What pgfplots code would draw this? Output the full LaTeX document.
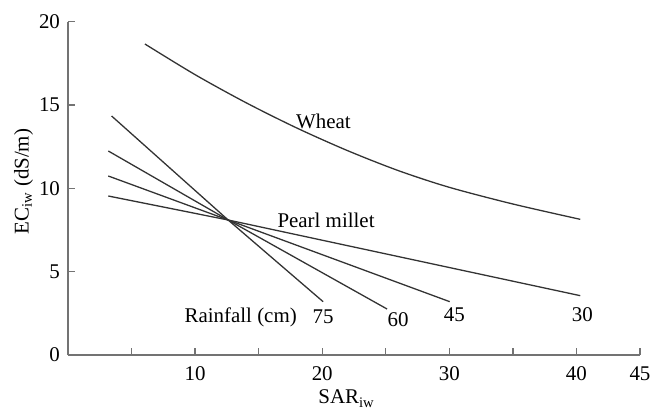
\documentclass[border=0pt]{standalone}
\usepackage{fontspec}
\setmainfont{Liberation Serif}
\usepackage{pgfplots}
\pgfplotsset{compat=1.18}
\begin{document}
\begin{tikzpicture}
\path[use as bounding box] (-34bp,-28.5bp) rectangle (293bp,177.5bp);
\begin{axis}[
  scale only axis,
  width=286bp, height=166.67bp,
  xmin=0, xmax=45, ymin=0, ymax=20,
  axis x line*=bottom, axis y line*=left,
  axis line style={-, draw=black!55, line width=0.7pt},
  tick style={draw=black!55, line width=0.7pt},
  tick align=inside,
  major tick length=3.3bp,
  xtick={5,10,...,45},
  xticklabels={,10,,20,,30,,40,45},
  ytick={0,5,10,15,20},
  /pgf/number format/assume math mode=true,
  tick label style={font=\fontsize{10.5}{12}\selectfont, text=black},
  xticklabel style={yshift=-2.5bp},
  yticklabel style={xshift=-0.5bp},
  xlabel={SAR\textsubscript{iw}},
  ylabel={EC\textsubscript{iw} (dS/m)},
  label style={font=\fontsize{10.5}{12}\selectfont},
  xlabel style={at={(axis description cs:0.487,0)}, anchor=north, yshift=-14bp},
  ylabel style={at={(axis description cs:0,0.52)}, anchor=south, yshift=14bp},
  clip=false,
]
% Wheat
\addplot[smooth, black!80, line width=0.65pt] coordinates {
 (6.05,18.66) (10,16.82) (14,15.14) (18,13.62) (22,12.26)
 (26,11.06) (30,10.06) (35,9.06) (40.3,8.14)};
% Pearl millet, rainfall 75 cm
\addplot[black!80, line width=0.65pt] coordinates {(3.43,14.34) (12.6,8.1) (20.07,3.2)};
% 60 cm
\addplot[black!80, line width=0.65pt] coordinates {(3.17,12.24) (12.6,8.1) (25.1,2.76)};
% 45 cm
\addplot[black!80, line width=0.65pt] coordinates {(3.17,10.74) (12.6,8.1) (30.03,3.2)};
% 30 cm
\addplot[black!80, line width=0.65pt] coordinates {(3.17,9.54) (12.6,8.1) (40.3,3.56)};

\node[font=\fontsize{10.5}{12}\selectfont] at (axis cs:20.1,14.0) {Wheat};
\node[font=\fontsize{10.5}{12}\selectfont] at (axis cs:20.3,8.1) {Pearl millet};
\node[font=\fontsize{10.5}{12}\selectfont, anchor=east] at (axis cs:18.55,2.28) {Rainfall (cm)};
\node[font=\fontsize{10.5}{12}\selectfont] at (axis cs:20.07,2.3) {75};
\node[font=\fontsize{10.5}{12}\selectfont] at (axis cs:25.97,2.1) {60};
\node[font=\fontsize{10.5}{12}\selectfont] at (axis cs:30.4,2.4) {45};
\node[font=\fontsize{10.5}{12}\selectfont] at (axis cs:40.46,2.4) {30};
\end{axis}
\end{tikzpicture}
\end{document}
